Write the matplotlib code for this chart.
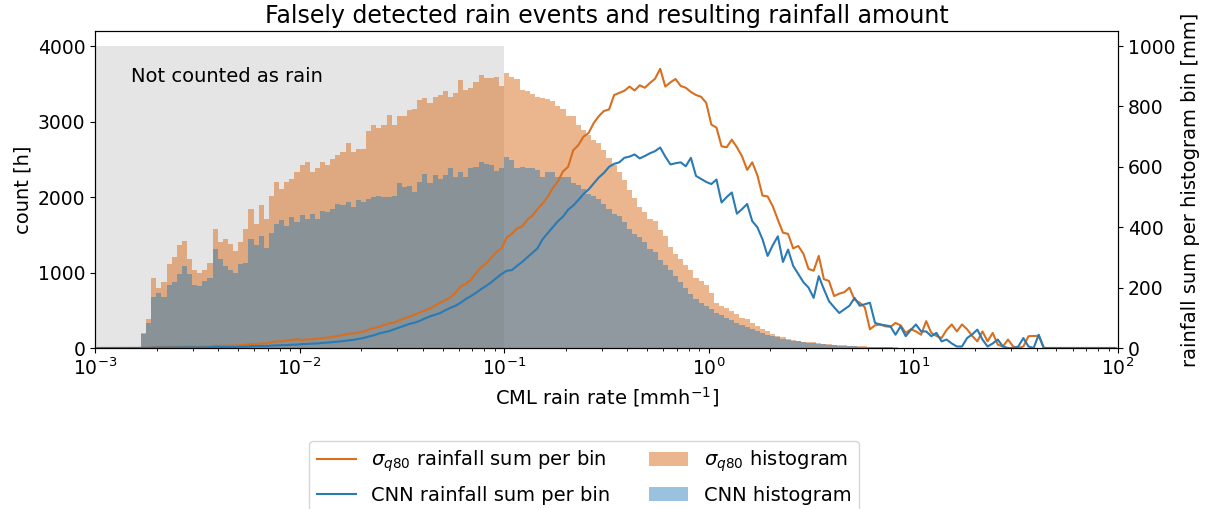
import numpy as np
import matplotlib.pyplot as plt

# 200 log-spaced bins from 1e-3 to 1e2 mm/h
bin_edges = np.logspace(-3, 2, 201)
bin_centers = np.sqrt(bin_edges[:-1] * bin_edges[1:])

# histogram counts [h] per bin
sigma_counts = [
    0, 0, 0, 0, 0, 0, 0, 0, 0,
    200, 380, 930, 800, 870, 1110, 1200, 1360, 1420, 1180, 1040,
    1000, 1040, 1130, 1580, 1400, 1440, 1380, 1290, 1400, 1580,
    1840, 1640, 1890, 1710, 2020, 2200, 2110, 2200, 2240, 2330,
    2420, 2470, 2330, 2380, 2470, 2420, 2510, 2560, 2600, 2710,
    2600, 2640, 2640, 2870, 2960, 2910, 2950, 3090, 2960, 3070,
    3080, 3150, 3160, 3280, 3310, 3250, 3330, 3350, 3400, 3330,
    3380, 3550, 3420, 3440, 3530, 3620, 3580, 3580, 3590, 3470,
    3640, 3590, 3560, 3420, 3400, 3360, 3330, 3310, 3300, 3270,
    3200, 3160, 3070, 3080, 2960, 2890, 2820, 2760, 2710, 2620,
    2520, 2420, 2330, 2220, 2100, 1990, 1870, 1800, 1710, 1680,
    1570, 1480, 1340, 1240, 1180, 1100, 1030, 930, 890, 840,
    730, 600, 555, 530, 490, 445, 400, 380, 335, 290,
    250, 225, 185, 160, 140, 118, 105, 95, 82, 78,
    75, 68, 56, 50, 42, 38, 34, 30, 24, 21,
    20, 10, 10, 9, 8, 7, 7, 6, 4, 4,
    3, 3, 6, 3, 2, 2, 4, 4, 3, 4,
    3, 2, 1, 2, 1, 2, 0, 0, 1, 0,
    0, 0, 1, 1, 1, 0, 0, 0, 0, 0,
    0, 0, 0, 0, 0, 0, 0, 0, 0, 0,
]
cnn_counts = [
    0, 0, 0, 0, 0, 0, 0, 0, 0,
    180, 330, 670, 730, 670, 840, 870, 980, 1090, 980, 840,
    820, 890, 930, 1310, 1180, 1090, 1040, 1000, 1110, 1130,
    1440, 1360, 1490, 1330, 1530, 1640, 1690, 1620, 1730, 1670,
    1760, 1710, 1780, 1710, 1820, 1800, 1840, 1910, 1890, 1930,
    1870, 1960, 1930, 1980, 2000, 2020, 2000, 2000, 2010, 2180,
    2130, 2150, 2070, 2200, 2310, 2180, 2290, 2240, 2290, 2380,
    2270, 2330, 2270, 2380, 2400, 2470, 2440, 2420, 2350, 2380,
    2530, 2490, 2380, 2400, 2380, 2380, 2360, 2270, 2330, 2330,
    2270, 2270, 2270, 2180, 2160, 2110, 2040, 2020, 1980, 1910,
    1840, 1780, 1750, 1670, 1580, 1510, 1470, 1400, 1310, 1270,
    1170, 1100, 1030, 950, 880, 800, 720, 650, 600, 555,
    511, 467, 435, 400, 369, 333, 307, 280, 253, 227,
    200, 178, 160, 142, 124, 111, 98, 89, 80, 71,
    62, 55, 48, 42, 37, 33, 29, 25, 22, 19,
    16, 14, 12, 10, 8, 7, 6, 5, 4, 3,
    3, 3, 2, 2, 2, 1, 1, 1, 0, 0,
    1, 2, 2, 1, 0, 1, 1, 0, 0, 0,
    0, 1, 0, 0, 1, 0, 0, 0, 0, 0,
    0, 0, 0, 0, 0, 0, 0, 0, 0, 0,
]

# rainfall sum per bin [mm]
sigma_rain = [
    0, 0, 0, 0, 0, 0, 0, 0, 0,
    0.4, 0.8, 2.0, 1.9, 2.2, 3.0, 3.4, 4.1, 4.6, 4.1, 3.9,
    3.9, 4.4, 5.1, 7.6, 7.2, 7.8, 8.0, 7.9, 9.1, 10.9,
    13.4, 12.7, 15.5, 15.0, 18.8, 21.8, 22.2, 24.6, 26.6, 29.4,
    26.0, 28.5, 29.0, 31.0, 33.0, 34.5, 37.0, 40.0, 43.0, 47.0,
    48.0, 51.0, 54.0, 61.0, 66.0, 70.0, 76.0, 82.0, 84.0, 92.0,
    98.0, 104.0, 110.0, 118.0, 124.0, 131.0, 140.0, 150.0, 158.0, 168.0,
    183.0, 205.0, 212.0, 226.0, 248.0, 268.0, 280.0, 300.0, 318.0, 330.0,
    366.0, 378.0, 396.0, 402.0, 425.0, 438.0, 460.0, 478.0, 500.0, 530.0,
    552.0, 585.0, 600.0, 655.0, 672.0, 700.0, 712.0, 745.0, 768.0, 785.0,
    790.0, 838.0, 845.0, 852.0, 866.0, 853.0, 870.0, 862.0, 878.0, 892.0,
    925.0, 866.0, 880.0, 891.0, 868.0, 862.0, 848.0, 838.0, 832.0, 812.0,
    740.0, 730.0, 668.0, 665.0, 690.0, 665.0, 635.0, 590.0, 615.0, 572.0,
    505.0, 502.0, 470.0, 425.0, 382.0, 378.0, 330.0, 338.0, 312.0, 262.0,
    256.0, 305.0, 228.0, 222.0, 172.0, 180.0, 185.0, 200.0, 160.0, 150.0,
    135.0, 62.0, 75.0, 78.0, 72.0, 70.0, 83.0, 75.0, 50.0, 62.0,
    55.0, 44.0, 89.0, 50.0, 40.0, 33.0, 60.0, 78.0, 55.0, 78.0,
    62.0, 40.0, 22.0, 55.0, 22.0, 50.0, 11.0, 5.0, 28.0, 5.0,
    0, 5.0, 39.0, 40.0, 40.0, 0, 0, 0, 0, 0,
    0, 0, 0, 0, 0, 0, 0, 0, 0, 0,
]
cnn_rain = [
    0, 0, 0, 0, 0, 0, 0, 0, 0,
    0.3, 0.6, 1.3, 1.4, 1.3, 1.7, 1.8, 2.1, 2.4, 2.2, 2.0,
    2.1, 2.4, 2.6, 3.9, 3.6, 3.5, 3.5, 3.5, 4.2, 4.5,
    6.0, 5.9, 6.9, 6.4, 7.9, 8.7, 9.4, 9.7, 10.9, 11.2,
    13.0, 13.4, 14.5, 15.2, 17.0, 18.0, 19.5, 21.0, 23.0, 25.0,
    27.0, 30.0, 33.0, 38.0, 42.0, 48.0, 52.0, 56.0, 62.0, 68.0,
    74.0, 80.0, 84.0, 90.0, 98.0, 105.0, 110.0, 116.0, 125.0, 133.0,
    140.0, 150.0, 162.0, 172.0, 183.0, 195.0, 206.0, 218.0, 232.0, 245.0,
    256.0, 258.0, 272.0, 285.0, 300.0, 315.0, 330.0, 360.0, 380.0, 400.0,
    420.0, 435.0, 458.0, 472.0, 490.0, 510.0, 525.0, 545.0, 565.0, 580.0,
    600.0, 610.0, 615.0, 630.0, 634.0, 641.0, 628.0, 636.0, 645.0, 652.0,
    664.0, 634.0, 608.0, 612.0, 615.0, 602.0, 630.0, 570.0, 560.0, 550.0,
    543.0, 558.0, 482.0, 500.0, 515.0, 445.0, 460.0, 477.0, 420.0, 400.0,
    360.0, 305.0, 340.0, 370.0, 285.0, 326.0, 272.0, 245.0, 218.0, 200.0,
    166.0, 238.0, 195.0, 155.0, 135.0, 116.0, 128.0, 140.0, 166.0, 140.0,
    145.0, 150.0, 83.0, 78.0, 75.0, 72.0, 44.0, 72.0, 39.0, 60.0,
    78.0, 55.0, 55.0, 39.0, 50.0, 22.0, 28.0, 15.0, 5.0, 5.0,
    33.0, 45.0, 61.0, 28.0, 5.0, 15.0, 28.0, 5.0, 0, 0,
    5.0, 33.0, 5.0, 0, 44.0, 0, 0, 0, 0, 0,
    0, 0, 0, 0, 0, 0, 0, 0, 0, 0,
]

orange = '#d86f1f'
blue = '#2a7ab4'
fs = 14

fig = plt.figure(figsize=(12.08, 5.09), dpi=100)
ax = fig.add_axes([0.0786, 0.3163, 0.8469, 0.6228])

# region below 0.1 mm/h is not counted as rain
ax.fill_between([1e-3, 1e-1], 0, 4000, color='grey', alpha=0.2, lw=0)
h1 = ax.hist(bin_centers, bins=bin_edges, weights=sigma_counts, color=orange, alpha=0.5)[2]
h2 = ax.hist(bin_centers, bins=bin_edges, weights=cnn_counts, color='C0', alpha=0.45)[2]
ax.text(1.5e-3, 3600, 'Not counted as rain', fontsize=fs, va='center')

ax.set_xscale('log')
ax.set_xlim(1e-3, 1e2)
ax.set_ylim(0, 4200)
ax.set_xlabel(r'CML rain rate [mmh$^{-1}$]', fontsize=fs)
ax.set_ylabel('count [h]', fontsize=fs)
ax.tick_params(labelsize=13.5)
ax.set_title('Falsely detected rain events and resulting rainfall amount', fontsize=17)

ax2 = ax.twinx()
l1, = ax2.plot(bin_centers, sigma_rain, color=orange)
l2, = ax2.plot(bin_centers, cnn_rain, color=blue)
ax2.set_ylim(0, 1050)
ax2.set_ylabel('rainfall sum per histogram bin [mm]', fontsize=fs)
ax2.tick_params(labelsize=13.5)

handles = [l1, l2, h1[0], h2[0]]
labels = [r'$\sigma_{q80}$ rainfall sum per bin', 'CNN rainfall sum per bin',
          r'$\sigma_{q80}$ histogram', 'CNN histogram']
fig.legend(handles, labels, loc='upper center', bbox_to_anchor=(0.4834, 0.1336),
           borderaxespad=0, ncol=2, fontsize=fs, labelspacing=0.6)

fig.savefig('out.png', dpi=100)
